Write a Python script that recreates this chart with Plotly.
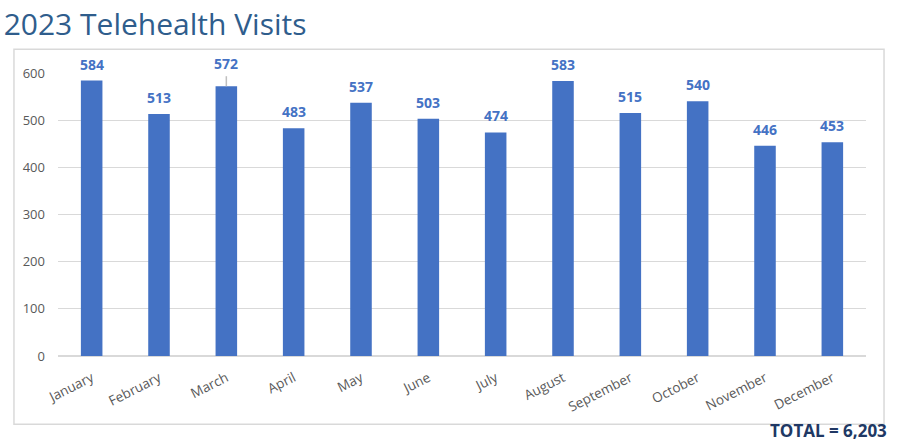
import plotly.graph_objects as go

months = ["January", "February", "March", "April", "May", "June",
          "July", "August", "September", "October", "November", "December"]
visits = [584, 513, 572, 483, 537, 503, 474, 583, 515, 540, 446, 453]
y_ticks = [0, 100, 200, 300, 400, 500, 600]
title_text = "2023 Telehealth Visits"
total_text = "TOTAL = 6,203"

BAR = "#4472C4"

fig = go.Figure(go.Bar(x=months, y=visits, marker=dict(color=BAR, line=dict(width=0)),
                       width=0.32, hoverinfo="x+y"))

annotations = []
shapes = []
for m, v in zip(months, visits):
    extra = 0
    if m == "March":
        extra = 6
        shapes.append(dict(type="line", xref="x", yref="y", x0=m, x1=m,
                           ysizemode="pixel", yanchor=v, y0=0, y1=10,
                           line=dict(color="#BFBFBF", width=1.5)))
    annotations.append(dict(x=m, y=v, xref="x", yref="y", text=str(v), showarrow=False,
                            yanchor="bottom", yshift=5 + extra,
                            font=dict(family="Open Sans", size=14, color=BAR, weight="bold")))

annotations.append(dict(xref="paper", yref="paper", x=1.027, y=-0.218, xanchor="right", yanchor="top",
                        text=f"<b>{total_text}</b>", showarrow=False, borderpad=0,
                        font=dict(family="Open Sans", size=17, color="#203864")))

shapes.append(dict(type="rect", xref="paper", yref="paper", x0=-0.0545, x1=1.0223,
                   y0=-0.2413, y1=1.0837, line=dict(color="#D9D9D9", width=1.5), layer="below"))

fig.update_layout(
    width=914, height=442,
    margin=dict(l=58, r=48, t=73, b=86),
    paper_bgcolor="white", plot_bgcolor="white",
    showlegend=False,
    title=dict(text=title_text, xref="container", yref="container", x=0.004, y=0.968,
               xanchor="left", yanchor="top",
               font=dict(family="Open Sans", size=30, color="#2F5D8C")),
    xaxis=dict(tickangle=-27, tickfont=dict(family="Open Sans", size=13.5, color="#595959"),
               showgrid=False, showline=False, ticks="outside", ticklen=8, tickcolor="rgba(0,0,0,0)",
               fixedrange=True),
    yaxis=dict(range=[0, 600], tickvals=y_ticks, gridcolor="#D9D9D9", gridwidth=1,
               zeroline=True, zerolinecolor="#D9D9D9", zerolinewidth=1.5,
               tickfont=dict(family="Open Sans", size=13, color="#595959"),
               ticklabelstandoff=12, showline=False, fixedrange=True),
    annotations=annotations,
    shapes=shapes,
)

fig.write_html("out.html", config={"displayModeBar": False},
               post_script="document.body.style.margin='0px';")
